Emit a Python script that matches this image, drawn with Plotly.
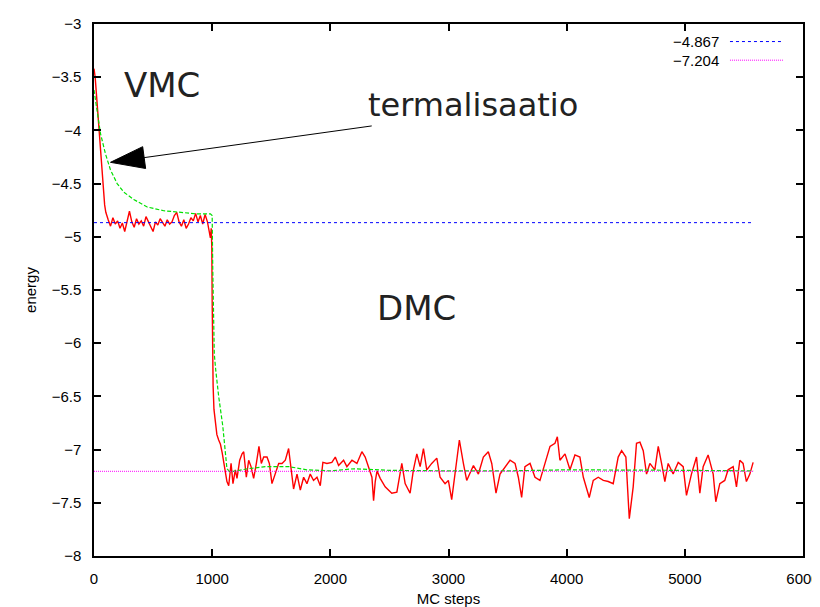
import plotly.graph_objects as go

# energy of the walk vs MC step
steps = [0, 10, 20, 30, 40, 50, 60, 70, 80, 90, 100, 110, 120, 140, 160, 180, 200, 220, 240, 260,
         280, 300, 320, 340, 360, 380, 400, 420, 440, 460, 480, 500, 520, 540, 560, 580, 600, 620,
         640, 660, 680, 700, 720, 740, 760, 780, 800, 820, 840, 860, 880, 900, 920, 940, 960, 975,
         985, 992, 997, 1000, 1003, 1008, 1015, 1025, 1040, 1055, 1070, 1085, 1095, 1105, 1115,
         1125, 1140, 1160, 1176, 1196, 1210, 1233, 1253, 1267, 1289, 1309, 1329, 1351, 1374, 1396,
         1416, 1436, 1464, 1484, 1506, 1534, 1563, 1591, 1619, 1647, 1667, 1689, 1718, 1746, 1774,
         1802, 1830, 1858, 1887, 1915, 1937, 1971, 2013, 2042, 2070, 2112, 2140, 2183, 2225, 2267,
         2295, 2323, 2352, 2366, 2380, 2395, 2422, 2464, 2520, 2563, 2605, 2633, 2675, 2703, 2732,
         2760, 2788, 2816, 2858, 2901, 2929, 2971, 2999, 3027, 3070, 3092, 3126, 3154, 3211, 3253,
         3295, 3337, 3366, 3402, 3436, 3478, 3521, 3563, 3591, 3619, 3647, 3690, 3732, 3774, 3816,
         3859, 3901, 3921, 3943, 3986, 4028, 4070, 4112, 4141, 4191, 4225, 4267, 4310, 4352, 4394,
         4436, 4465, 4501, 4530, 4563, 4591, 4620, 4648, 4676, 4704, 4746, 4775, 4803, 4831, 4859,
         4901, 4944, 4986, 5014, 5056, 5099, 5127, 5155, 5197, 5240, 5262, 5296, 5338, 5366, 5409,
         5437, 5465, 5493, 5521, 5550, 5578]
energy = [-3.42, -3.50, -3.65, -3.80, -3.96, -4.12, -4.27, -4.44, -4.58, -4.70, -4.77, -4.82, -4.84,
          -4.90, -4.82, -4.88, -4.85, -4.92, -4.87, -4.95, -4.84, -4.76, -4.86, -4.91, -4.83, -4.88,
          -4.85, -4.90, -4.81, -4.86, -4.90, -4.95, -4.86, -4.89, -4.83, -4.87, -4.90, -4.84, -4.88,
          -4.86, -4.80, -4.77, -4.86, -4.90, -4.84, -4.92, -4.88, -4.82, -4.85, -4.78, -4.86, -4.80,
          -4.88, -4.79, -4.86, -4.95, -5.01, -4.92, -5.10, -5.60, -6.05, -6.40, -6.62, -6.74, -6.86,
          -6.91, -6.95, -7.03, -7.10, -7.15, -7.22, -7.30, -7.34, -7.13, -7.32, -7.19, -7.27, -7.10,
          -7.04, -7.02, -7.26, -7.10, -7.16, -7.27, -7.13, -6.97, -7.13, -7.07, -7.07, -7.13, -7.32,
          -7.23, -7.13, -7.13, -7.10, -6.99, -7.19, -7.37, -7.23, -7.38, -7.26, -7.32, -7.23, -7.29,
          -7.26, -7.34, -7.12, -7.13, -7.12, -7.07, -7.15, -7.10, -7.16, -7.10, -7.13, -7.02, -7.07,
          -7.16, -7.26, -7.48, -7.30, -7.20, -7.27, -7.35, -7.41, -7.40, -7.13, -7.32, -7.41, -7.19,
          -7.04, -7.16, -6.99, -7.19, -7.13, -7.08, -7.26, -7.32, -7.29, -7.47, -7.10, -6.91, -7.13,
          -7.29, -7.15, -7.23, -7.07, -7.02, -7.13, -7.41, -7.23, -7.16, -7.10, -7.13, -7.26, -7.45,
          -7.16, -7.13, -7.26, -7.29, -7.13, -6.97, -6.94, -6.88, -7.10, -7.04, -7.19, -7.05, -7.07,
          -7.26, -7.45, -7.29, -7.26, -7.29, -7.30, -7.32, -7.07, -7.01, -7.07, -7.65, -7.35, -6.94,
          -6.93, -7.01, -7.23, -7.13, -7.19, -6.97, -7.13, -7.30, -7.13, -7.23, -7.12, -7.16, -7.43,
          -7.23, -7.07, -7.41, -7.16, -7.05, -7.23, -7.49, -7.32, -7.29, -7.19, -7.16, -7.35, -7.10,
          -7.13, -7.30, -7.23, -7.12]

# running average
avg_steps = [0, 27, 55, 97, 139, 196, 252, 337, 450, 590, 731, 872, 985, 1000, 1005, 1010, 1018,
             1030, 1055, 1090, 1105, 1125, 1150, 1300, 1450, 1650, 1800, 2000, 2200, 2500, 3000,
             3500, 4000, 4500, 5000, 5578]
avg_energy = [-3.62, -3.84, -4.03, -4.22, -4.37, -4.50, -4.58, -4.65, -4.72, -4.755, -4.77, -4.785,
              -4.785, -4.80, -5.30, -5.75, -6.10, -6.25, -6.50, -6.78, -6.97, -7.18, -7.21, -7.18,
              -7.16, -7.16, -7.19, -7.20, -7.18, -7.195, -7.20, -7.20, -7.19, -7.19, -7.195, -7.20]

# reference levels (VMC, DMC)
ref_levels = [-4.867, -7.204]

x_ticks = [0, 1000, 2000, 3000, 4000, 5000, 6000]
y_ticks = [-8, -7.5, -7, -6.5, -6, -5.5, -5, -4.5, -4, -3.5, -3]

fig = go.Figure()
fig.add_trace(go.Scatter(x=steps, y=energy, mode="lines",
                         line=dict(color="#ff0000", width=1.4), showlegend=False))
fig.add_trace(go.Scatter(x=avg_steps, y=avg_energy, mode="lines",
                         line=dict(color="#00e000", width=1.2, dash="4px,2px"), showlegend=False))
ref_styles = [dict(color="#0000ff", width=1, dash="3px,3px"),
              dict(color="#ff00ff", width=1, dash="1px,1px")]
for lvl, st in zip(ref_levels, ref_styles):
    fig.add_trace(go.Scatter(x=[0, steps[-1]], y=[lvl, lvl], mode="lines",
                             line=st, showlegend=False))

tickfont = dict(family="Liberation Sans, Arial", size=15, color="black")
axis_common = dict(showgrid=False, zeroline=False, showline=True, linecolor="black",
                   linewidth=1.5, mirror="ticks", ticks="inside", ticklen=7, tickwidth=1.5,
                   tickcolor="black", tickfont=tickfont, ticklabelstandoff=8, automargin=False)

fig.update_xaxes(range=[0, 6000], tickvals=x_ticks, **axis_common,
                 title=dict(text="MC steps", font=tickfont, standoff=9))
fig.update_yaxes(range=[-8, -3], tickvals=y_ticks, **axis_common,
                 title=dict(text="energy", font=tickfont, standoff=11))

big = dict(family="DejaVu Sans", size=34, color="#222222")
fig.add_annotation(x=575, y=-3.573, text="VMC", showarrow=False, font=big)
fig.add_annotation(x=2730, y=-5.671, text="DMC", showarrow=False, font=big)
fig.add_annotation(x=3204, y=-3.761, text="termalisaatio", showarrow=False,
                   font=dict(family="DejaVu Sans", size=32, color="#222222"))

# arrow: thin shaft + filled head
fig.add_annotation(x=424, y=-4.256, ax=2363, ay=-3.956, axref="x", ayref="y",
                   text="", showarrow=True, arrowhead=0, arrowwidth=1, arrowcolor="black")
fig.add_shape(type="path", xref="x", yref="y",
              path="M 139.5,-4.300 L 412,-4.153 L 437,-4.358 Z",
              fillcolor="black", line=dict(color="black", width=1))

# gnuplot-style key (text right, sample line left)
key_y = [0.967, 0.932]
for lvl, st, ky in zip(ref_levels, ref_styles, key_y):
    fig.add_annotation(xref="paper", yref="paper", x=0.884, y=ky, xanchor="right",
                       yanchor="middle", text=f"{lvl:.3f}".replace("-", "\u2212"),
                       showarrow=False,
                       font=dict(family="Liberation Sans, Arial", size=15, color="black"))
    fig.add_shape(type="line", xref="paper", yref="paper", x0=0.897, x1=0.973, y0=ky, y1=ky,
                  line=st)

# page body adds an 8px offset, so the figure is 8px smaller
fig.update_layout(width=812, height=599, margin=dict(l=86, r=17, t=16, b=51),
                  paper_bgcolor="white", plot_bgcolor="white", showlegend=False)

fig.write_html("out.html")
